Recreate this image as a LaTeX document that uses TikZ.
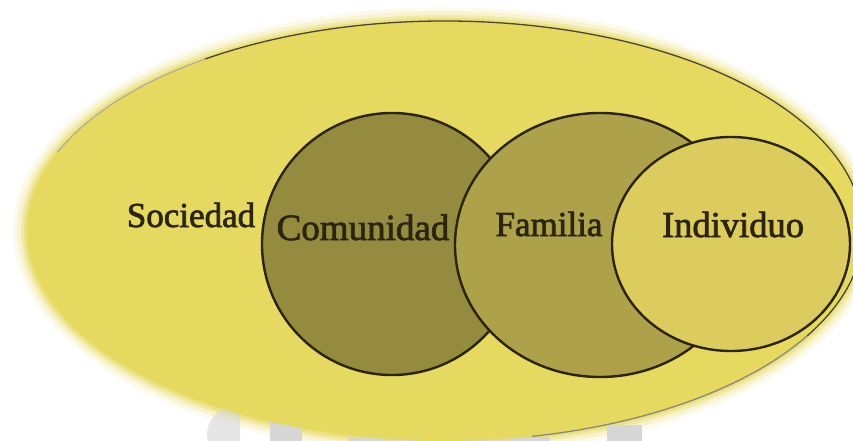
\documentclass[tikz,border=0pt]{standalone}
\usepackage{fontspec}
\setmainfont{Liberation Serif}
\newfontfamily\lblfont{Liberation Serif}[FakeBold=2]
\usetikzlibrary{shapes.geometric}
\definecolor{outerfill}{HTML}{E5D95F}
\definecolor{comfill}{HTML}{958B3F}
\definecolor{famfill}{HTML}{ADA149}
\definecolor{indfill}{HTML}{DCCB5D}
\definecolor{inkline}{HTML}{2A2410}
\definecolor{inktext}{HTML}{2B2510}
\definecolor{wmgray}{HTML}{D6D6D6}
\tikzset{
  ring/.style={ellipse, draw=inkline, line width=2.4pt, inner sep=0pt},
  label/.style={text=inktext, inner sep=0pt, anchor=base},
  wm/.style={fill=wmgray}
}
\begin{document}
\begin{tikzpicture}[x=1pt, y=-1pt]
\useasboundingbox (0,0) rectangle (853,441);
% soft halo of the outer ellipse (Sociedad)
\foreach \d/\o in {14/0.12, 10/0.2, 6/0.35, 3/0.55} {
  \fill[outerfill, opacity=\o] (445,231) ellipse [x radius=418+\d, y radius=210+\d];
}
% faint watermark shapes
\fill[wm] (270,413) rectangle (302,441);
\fill[wm] (607,425) rectangle (642,441);
\fill[wm] (348,437) rectangle (550,441);
\fill[wm, opacity=0.6] (208,441) .. controls (204,425) and (214,410) .. (232,405) -- (240,405) -- (240,441) -- cycle;
% outer ellipse
\fill[outerfill] (445,231) ellipse [x radius=418, y radius=210];
% outline of the outer ellipse
\draw[gray!70, line width=1pt] ([shift={(-158:418 and 210)}]445,231) arc[start angle=-158, end angle=-125, x radius=418, y radius=210];
\draw[inkline!85, line width=1.3pt] ([shift={(-125:418 and 210)}]445,231) arc[start angle=-125, end angle=30, x radius=418, y radius=210];
\draw[inkline!55, line width=1.3pt] ([shift={(30:418 and 210)}]445,231) arc[start angle=30, end angle=78, x radius=418, y radius=210];
% inner circles
\node[ring, fill=comfill, minimum width=260pt, minimum height=262pt] (ccom) at (392,244) {};
\node[ring, fill=famfill, minimum width=290pt, minimum height=264pt] (cfam) at (600,245) {};
\node[ring, fill=indfill, minimum width=238pt, minimum height=214pt] (cind) at (731,244) {};
% labels
\node[label, font=\lblfont\fontsize{35}{40}\selectfont] (soc) at (191,227) {Sociedad};
\node[label, font=\lblfont\fontsize{37}{42}\selectfont] (com) at (363,240) {Comunidad};
\node[label, font=\lblfont\fontsize{35}{40}\selectfont] (fam) at (549,236) {Familia};
\node[label, font=\lblfont\fontsize{36.5}{42}\selectfont] (ind) at (733,237) {Individuo};
\end{tikzpicture}
\end{document}
